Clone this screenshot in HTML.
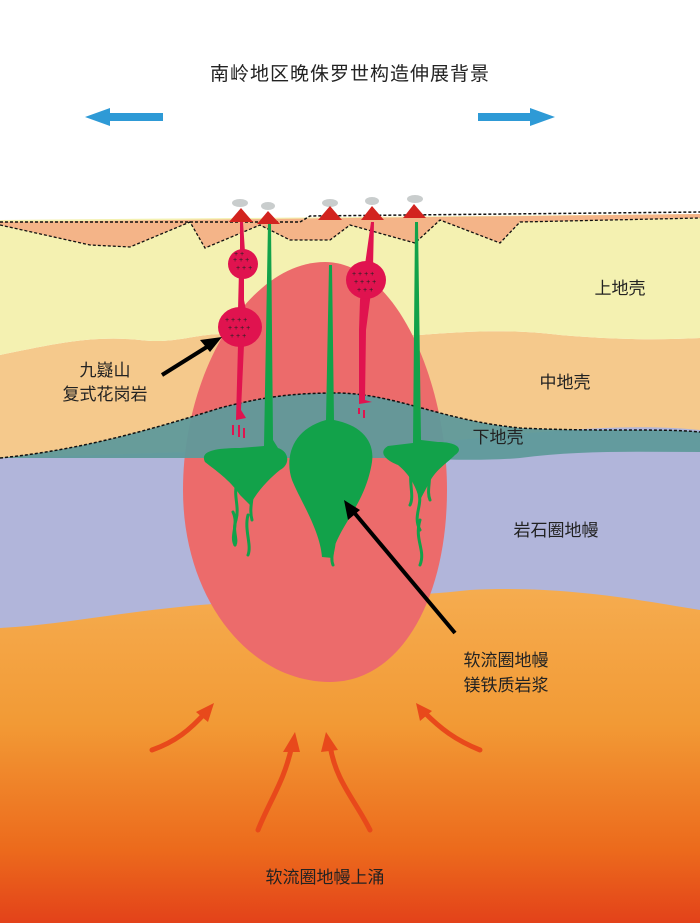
<!DOCTYPE html>
<html><head><meta charset="utf-8"><style>
body{margin:0;background:#fff}
svg{display:block}
text{font-family:"Liberation Sans","Noto Sans CJK SC",sans-serif;fill:#222}
</style></head><body>
<svg width="700" height="923" viewBox="0 0 700 923" xmlns="http://www.w3.org/2000/svg">
<defs>
<linearGradient id="ast" x1="0" y1="0" x2="0" y2="1">
<stop offset="0" stop-color="#f6b055"/>
<stop offset="0.45" stop-color="#f29a35"/>
<stop offset="0.8" stop-color="#ec6a1c"/>
<stop offset="1" stop-color="#e3421a"/>
</linearGradient>
</defs>
<rect width="700" height="923" fill="#fff"/>
<rect x="0" y="560" width="700" height="363" fill="url(#ast)"/>
<!-- lithospheric mantle -->
<path d="M0,440 L700,420 L700,610 C640,600 560,585 470,590 C380,600 280,598 200,605 C120,612 60,625 0,628 Z" fill="#b1b5da"/>
<!-- middle crust -->
<path d="M0,355 C50,345 90,335 140,340 C180,345 200,330 240,335 L420,335 C480,330 520,330 560,335 C620,340 660,340 700,338 L700,430 C600,420 480,440 400,445 L0,458 Z" fill="#f5c98c"/>
<!-- upper crust -->
<path d="M0,220 L700,214 L700,338 C660,340 620,340 560,335 C520,330 480,330 420,335 L240,335 C200,330 180,345 140,340 C90,335 50,345 0,355 Z" fill="#f4f1b1"/>
<!-- pink body -->
<path d="M325,262 C395,262 447,380 447,490 C447,600 400,682 330,682 C250,682 183,600 183,490 C183,370 250,262 325,262 Z" fill="#ec6b6b"/>
<!-- lower crust -->
<path d="M0,458 C80,450 150,430 220,408 C270,395 300,393 340,393 C400,395 440,420 520,428 C600,432 660,428 700,432 L700,452 C640,452 580,450 520,458 C470,462 420,458 380,458 L0,458 Z" fill="#5f9a9b" opacity="0.95"/>
<path d="M0,458 C80,450 150,430 220,408 C270,395 300,393 340,393 C400,395 440,420 520,428 C600,432 660,428 700,432" fill="none" stroke="#111" stroke-width="1.5" stroke-dasharray="3,2"/>
<!-- surface peach layer -->
<path d="M0,222 L700,214 L700,218 L520,222 L500,243 L440,220 L415,243 L350,225 L330,240 L290,240 L260,225 L205,248 L190,222 L130,247 L90,245 L0,225 Z" fill="#f4b488"/>
<path d="M0,225 L90,245 L130,247 L190,222 L205,248 L260,225 L290,240 L330,240 L350,225 L415,243 L440,220 L500,243 L520,222 L700,218" fill="none" stroke="#111" stroke-width="1.3" stroke-dasharray="3,2"/>
<path d="M0,222 L240,222 L300,222 L310,216 L700,212" fill="none" stroke="#111" stroke-width="1.5" stroke-dasharray="3,2"/>
<!-- green plumes -->
<g fill="#12a24a" stroke="none">
<path d="M268,222 L271,222 L273,440 L278,448 C290,452 290,465 280,470 C270,478 258,490 250,505 L240,495 C230,480 215,470 205,462 C200,452 212,448 240,448 L264,446 Z"/>
<path d="M329,265 L332,265 L334,420 C360,425 375,440 372,462 C366,500 345,520 335,545 L333,558 L322,557 C320,530 300,500 292,480 C285,460 290,430 326,420 Z"/>
<path d="M415,222 L418,222 L421,440 L438,442 C455,442 465,448 455,455 C445,465 435,470 428,485 L420,500 C415,485 410,475 398,465 C385,460 378,452 388,446 L413,443 Z"/>
</g>
<g fill="none" stroke="#12a24a" stroke-width="3" stroke-linecap="round">
<path d="M238,480 C232,495 240,505 236,520 C232,530 238,540 235,545"/>
<path d="M250,480 C256,495 248,505 252,520"/>
<path d="M233,512 C239,525 230,535 235,545"/>
<path d="M248,515 C244,530 252,545 248,555"/>
<path d="M413,465 C407,480 415,495 410,505"/>
<path d="M428,468 C432,480 426,490 430,500"/>
<path d="M418,490 C424,505 412,515 420,530"/>
<path d="M420,520 C414,540 426,550 420,565"/>
<path d="M333,535 C337,545 329,555 333,565"/>
</g>
<!-- red dikes -->
<g fill="#e0134f">
<path d="M240,222 L243,222 L245,252 L244,260 L244,300 L246,310 L244,345 L241,410 L246,418 L236,420 L238,345 L238,310 L239,270 L240,258 Z"/>
<circle cx="243" cy="264" r="15"/>
<ellipse cx="240" cy="327" rx="22" ry="20"/>
<path d="M371,222 L374,222 L373,268 L370,300 L366,330 L365,400 L372,402 L359,404 L359,330 L360,300 Z"/>
<ellipse cx="366" cy="280" rx="20" ry="19"/>
</g>
<g stroke="#e0134f" stroke-width="2">
<path d="M233,425 v10 M239,425 v12 M244,428 v10 M359,408 v6 M364,410 v8"/>
</g>
<g fill="#111" font-size="7" font-family="Liberation Sans">
<text x="233" y="262">+ + +</text><text x="236" y="270">+ + +</text><text x="234" y="256">+ +</text>
<text x="225" y="322">+ + + +</text><text x="228" y="330">+ + + +</text><text x="230" y="338">+ + +</text>
<text x="352" y="276">+ + + +</text><text x="354" y="284">+ + + +</text><text x="357" y="292">+ + +</text>
</g>
<!-- volcanoes -->
<g>
<ellipse cx="240" cy="203" rx="8" ry="4" fill="#c9cdcd"/>
<ellipse cx="268" cy="206" rx="7" ry="4" fill="#c9cdcd"/>
<ellipse cx="330" cy="203" rx="8" ry="4" fill="#c9cdcd"/>
<ellipse cx="372" cy="201" rx="7" ry="4" fill="#c9cdcd"/>
<ellipse cx="415" cy="199" rx="8" ry="4" fill="#c9cdcd"/>
<path d="M229,222 L241,208 L253,222 Z M257,224 L268,211 L280,224 Z M318,220 L330,206 L342,220 Z M361,220 L372,206 L384,220 Z M403,218 L414,204 L426,218 Z" fill="#d2231f"/>
</g>
<!-- black arrows -->
<g stroke="#000" stroke-width="4" fill="#000">
<line x1="162" y1="375" x2="210" y2="345"/>
<line x1="455" y1="633" x2="352" y2="510"/>
</g>
<path d="M222,337 L200,340 L210,352 Z" fill="#000"/>
<path d="M344,500 L348,520 L360,510 Z" fill="#000"/>
<!-- blue arrows -->
<path d="M163,113 L110,113 L110,108 L85,117 L110,126 L110,121 L163,121 Z" fill="#2e9ad6"/>
<path d="M478,113 L530,113 L530,108 L555,117 L530,126 L530,121 L478,121 Z" fill="#2e9ad6"/>
<!-- orange arrows -->
<g stroke="#e8491b" stroke-width="5" fill="none" stroke-linecap="round">
<path d="M152,750 C175,742 190,730 206,712"/>
<path d="M258,830 C270,800 285,780 292,745"/>
<path d="M370,830 C355,800 335,780 330,745"/>
<path d="M480,750 C455,740 440,728 425,713"/>
</g>
<g fill="#e8491b">
<path d="M214,703 L196,712 L208,722 Z"/>
<path d="M295,732 L283,752 L300,752 Z"/>
<path d="M326,732 L321,752 L338,750 Z"/>
<path d="M416,703 L420,721 L432,711 Z"/>
</g>
<!-- labels -->
<text x="350" y="80" font-size="19" text-anchor="middle" letter-spacing="1">南岭地区晚侏罗世构造伸展背景</text>
<text x="620" y="294" font-size="17" text-anchor="middle">上地壳</text>
<text x="565" y="388" font-size="17" text-anchor="middle">中地壳</text>
<text x="498" y="443" font-size="17" text-anchor="middle">下地壳</text>
<text x="556" y="536" font-size="17" text-anchor="middle">岩石圈地幔</text>
<text x="105" y="376" font-size="17" text-anchor="middle">九嶷山</text>
<text x="105" y="400" font-size="17" text-anchor="middle">复式花岗岩</text>
<text x="506" y="666" font-size="17" text-anchor="middle">软流圈地幔</text>
<text x="506" y="691" font-size="17" text-anchor="middle">镁铁质岩浆</text>
<text x="325" y="883" font-size="17" text-anchor="middle">软流圈地幔上涌</text>
</svg>
</body></html>
